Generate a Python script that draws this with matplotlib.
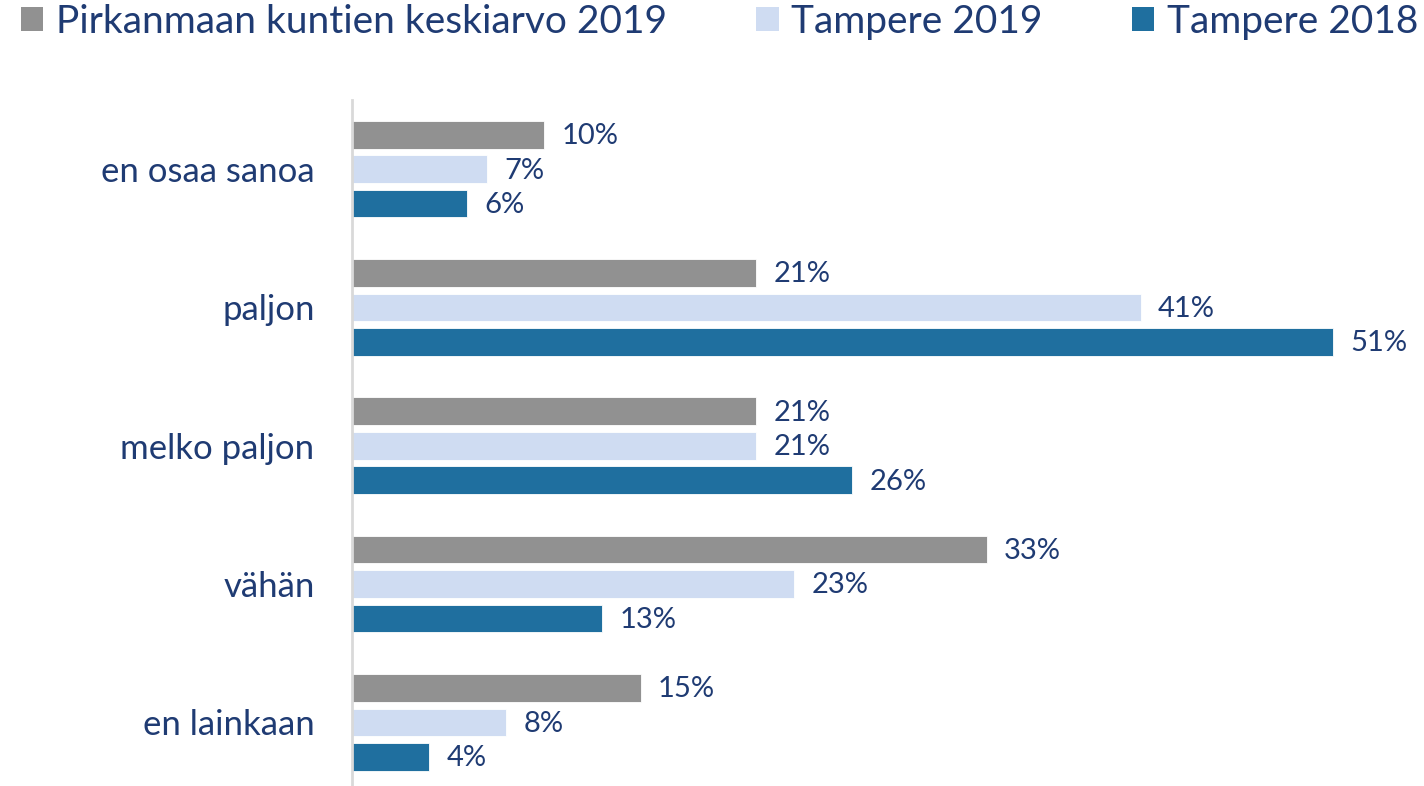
import numpy as np
import matplotlib.pyplot as plt
from matplotlib.patches import Patch

plt.rcParams['font.family'] = ['Lato', 'DejaVu Sans']

kategoriat = ["en osaa sanoa", "paljon", "melko paljon", "vähän", "en lainkaan"]
sarjat = ["Pirkanmaan kuntien keskiarvo 2019", "Tampere 2019", "Tampere 2018"]
pirkanmaa_2019 = [10, 21, 21, 33, 15]
tampere_2019 = [7, 41, 21, 23, 8]
tampere_2018 = [6, 51, 26, 13, 4]

varit = ["#919191", "#CFDCF2", "#1F6F9F"]
tekstivari = "#1F3B73"

fig = plt.figure(figsize=(14.24, 7.86), dpi=100)
ax = fig.add_axes([0.2472, 0.0, 0.743, 0.8728])

y = np.arange(len(kategoriat))
askel = 0.249
korkeus = 0.2
arvot = [pirkanmaa_2019, tampere_2019, tampere_2018]
for i, (nimi, data, vari) in enumerate(zip(sarjat, arvot, varit)):
    pos = y + (i - 1) * askel
    ax.barh(pos, data, height=korkeus, color=vari, edgecolor="white", linewidth=0.6, label=nimi)
    for yy, v in zip(pos, data):
        ax.text(v + 0.9, yy + 0.01, f"{v}%", va="center", ha="left", fontsize=21, color=tekstivari)

ax.set_xlim(0, 55)
ax.set_ylim(4.46, -0.5)
ax.set_yticks(y)
ax.set_yticklabels(kategoriat, fontsize=25, color=tekstivari)
ax.tick_params(axis="y", length=0, pad=27)
ax.set_xticks([])
for s in ["top", "right", "bottom"]:
    ax.spines[s].set_visible(False)
ax.spines["left"].set_color("#D9D9D9")
ax.spines["left"].set_linewidth(2)

kahvat = [Patch(facecolor=v, edgecolor="none") for v in varit]
leg = fig.legend(kahvat, sarjat, loc="upper left", bbox_to_anchor=(0.012, 1.0), ncol=3,
                 frameon=False, fontsize=28, handlelength=0.57, handleheight=0.57,
                 handletextpad=0.33, columnspacing=2.3, borderpad=0.1, borderaxespad=0)
for t in leg.get_texts():
    t.set_color(tekstivari)

fig.savefig("out.png", dpi=100)
